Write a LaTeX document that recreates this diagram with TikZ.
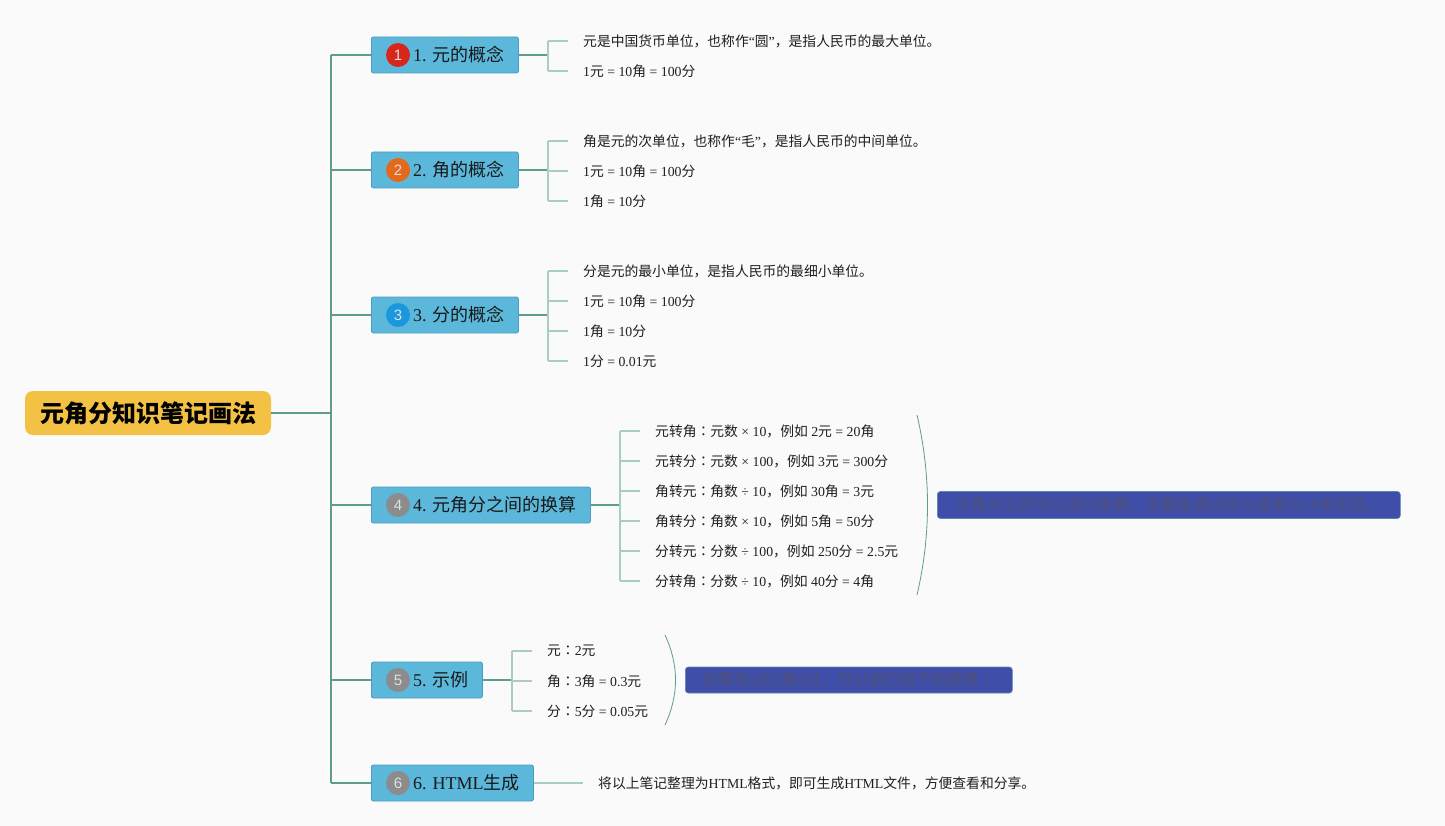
\documentclass[tikz,border=0pt]{standalone}
\usepackage{fontspec}
\setmainfont{Liberation Serif}
\newfontfamily\cjk{Noto Sans CJK SC}
\newfontfamily\cjktc{Noto Sans CJK TC}
\newfontfamily\lat{Liberation Serif}
\newfontfamily\numf{Liberation Sans}
% automatic switch between Latin and CJK fonts
\newcount\mycc
\def\setcjkrange#1#2{\mycc=#1\relax\loop\XeTeXcharclass\mycc=7\relax\advance\mycc by 1\relax\ifnum\mycc<#2\repeat}
\setcjkrange{"4E00}{"A000}
\setcjkrange{"3000}{"3040}
\setcjkrange{"FF00}{"FFF0}
\XeTeXcharclass"FF1A=8
\XeTeXinterchartoks 0 7 = {\cjk}
\XeTeXinterchartoks 4095 7 = {\cjk}
\XeTeXinterchartoks 8 7 = {\cjk}
\XeTeXinterchartoks 7 0 = {\lat}
\XeTeXinterchartoks 7 4095 = {\lat}
\XeTeXinterchartoks 8 0 = {\lat}
\XeTeXinterchartoks 8 4095 = {\lat}
\XeTeXinterchartoks 7 8 = {\cjktc}
\XeTeXinterchartoks 0 8 = {\cjktc}
\XeTeXinterchartoks 4095 8 = {\cjktc}
\XeTeXinterchartokenstate=1
\definecolor{bgc}{HTML}{FAFAFA}
\definecolor{rootc}{HTML}{F3C143}
\definecolor{boxc}{HTML}{5BB8DB}
\definecolor{boxd}{HTML}{4A9CBE}
\definecolor{trunkc}{HTML}{5E9C8C}
\definecolor{leafc}{HTML}{A8CEC2}
\definecolor{sumc}{HTML}{3F4FA9}
\definecolor{sumd}{HTML}{5A86B0}
\definecolor{sumt}{HTML}{4F5078}
\definecolor{n1}{HTML}{D9261C}
\definecolor{n2}{HTML}{E4691A}
\definecolor{n3}{HTML}{1A98DE}
\definecolor{n4}{HTML}{8C8C8C}
\begin{document}
\begin{tikzpicture}[x=1pt,y=-1pt,
  rootbox/.style={fill=rootc, rounded corners=8pt, minimum width=246pt, minimum height=44pt, inner sep=0pt, font=\bfseries\fontsize{24}{28}\selectfont},
  branchbox/.style={fill=boxc, draw=boxd, line width=0.8pt, rounded corners=2pt, minimum height=36pt, inner sep=0pt, anchor=west},
  blabel/.style={anchor=west, inner sep=0pt, text=black!90, font=\fontsize{18}{22}\selectfont},
  numc/.style={circle, minimum size=24pt, inner sep=0pt, text=white!75!gray, font=\numf\fontsize{15}{15}\selectfont},
  leaf/.style={anchor=west, inner xsep=15pt, inner ysep=2pt, text=black!88, font=\fontsize{13.8}{16}\selectfont},
  trunk/.style={draw=trunkc, line width=1.2pt},
  twig/.style={draw=leafc, line width=1.2pt},
  brace/.style={draw=trunkc, line width=0.8pt},
  sumbox/.style={fill=sumc, draw=sumd, line width=0.6pt, rounded corners=3pt, inner sep=0pt, text=sumt, font=\fontsize{15.8}{18}\selectfont},
]
\useasboundingbox[fill=bgc] (0,0) rectangle (1445,826);

% root
\node[rootbox] (root) at (148,413) {元角分知识笔记画法};
\coordinate (tk) at (331,413);

% branch boxes
\node[branchbox, minimum width=147pt] (b1) at (371,55) {};
\node[branchbox, minimum width=147pt] (b2) at (371,170) {};
\node[branchbox, minimum width=147pt] (b3) at (371,315) {};
\node[branchbox, minimum width=219pt] (b4) at (371,505) {};
\node[branchbox, minimum width=111pt] (b5) at (371,680) {};
\node[branchbox, minimum width=162pt] (b6) at (371,783) {};

\node[numc, fill=n1] (c1) at (398,55) {1};
\node[numc, fill=n2] (c2) at (398,170) {2};
\node[numc, fill=n3] (c3) at (398,315) {3};
\node[numc, fill=n4] (c4) at (398,505) {4};
\node[numc, fill=n4] (c5) at (398,680) {5};
\node[numc, fill=n4] (c6) at (398,783) {6};

\node[blabel] (t1) at (413,55) {1. 元的概念};
\node[blabel] (t2) at (413,170) {2. 角的概念};
\node[blabel] (t3) at (413,315) {3. 分的概念};
\node[blabel] (t4) at (413,505) {4. 元角分之间的换算};
\node[blabel] (t5) at (413,680) {5. 示例};
\node[blabel] (t6) at (413,783) {6. HTML生成};

% trunk
\draw[trunk] (root.east) -- (tk);
\draw[trunk] (tk |- b1.west) -- (tk |- b6.west);
\foreach \b in {b1,b2,b3,b4,b5,b6} {\draw[trunk] (tk |- \b.west) -- (\b.west);}

% leaves branch 1
\node[leaf] (l11) at (568,41) {元是中国货币单位，也称作“圆”，是指人民币的最大单位。};
\node[leaf] (l12) at (568,71) {1元 = 10角 = 100分};
\coordinate (k1) at (548,55);
\draw[trunk] (b1.east) -- (k1);
\draw[twig] (k1 |- l11.west) -- (k1 |- l12.west);
\foreach \l in {l11,l12} {\draw[twig] (k1 |- \l.west) -- (\l.west);}

% leaves branch 2
\node[leaf] (l21) at (568,141) {角是元的次单位，也称作“毛”，是指人民币的中间单位。};
\node[leaf] (l22) at (568,171) {1元 = 10角 = 100分};
\node[leaf] (l23) at (568,201) {1角 = 10分};
\coordinate (k2) at (548,170);
\draw[trunk] (b2.east) -- (k2);
\draw[twig] (k2 |- l21.west) -- (k2 |- l23.west);
\foreach \l in {l21,l22,l23} {\draw[twig] (k2 |- \l.west) -- (\l.west);}

% leaves branch 3
\node[leaf] (l31) at (568,271) {分是元的最小单位，是指人民币的最细小单位。};
\node[leaf] (l32) at (568,301) {1元 = 10角 = 100分};
\node[leaf] (l33) at (568,331) {1角 = 10分};
\node[leaf] (l34) at (568,361) {1分 = 0.01元};
\coordinate (k3) at (548,315);
\draw[trunk] (b3.east) -- (k3);
\draw[twig] (k3 |- l31.west) -- (k3 |- l34.west);
\foreach \l in {l31,l32,l33,l34} {\draw[twig] (k3 |- \l.west) -- (\l.west);}

% leaves branch 4
\node[leaf] (l41) at (640,431) {元转角：元数 × 10，例如 2元 = 20角};
\node[leaf] (l42) at (640,461) {元转分：元数 × 100，例如 3元 = 300分};
\node[leaf] (l43) at (640,491) {角转元：角数 ÷ 10，例如 30角 = 3元};
\node[leaf] (l44) at (640,521) {角转分：角数 × 10，例如 5角 = 50分};
\node[leaf] (l45) at (640,551) {分转元：分数 ÷ 100，例如 250分 = 2.5元};
\node[leaf] (l46) at (640,581) {分转角：分数 ÷ 10，例如 40分 = 4角};
\coordinate (k4) at (620,505);
\draw[trunk] (b4.east) -- (k4);
\draw[twig] (k4 |- l41.west) -- (k4 |- l46.west);
\foreach \l in {l41,l42,l43,l44,l45,l46} {\draw[twig] (k4 |- \l.west) -- (\l.west);}

% leaves branch 5
\node[leaf] (l51) at (532,651) {元：2元};
\node[leaf] (l52) at (532,681) {角：3角 = 0.3元};
\node[leaf] (l53) at (532,711) {分：5分 = 0.05元};
\coordinate (k5) at (512,680);
\draw[trunk] (b5.east) -- (k5);
\draw[twig] (k5 |- l51.west) -- (k5 |- l53.west);
\foreach \l in {l51,l52,l53} {\draw[twig] (k5 |- \l.west) -- (\l.west);}

% leaf branch 6
\node[leaf] (l61) at (583,783) {将以上笔记整理为HTML格式，即可生成HTML文件，方便查看和分享。};
\draw[twig] (b6.east) -- (l61.west);

% summaries
\coordinate (s4a) at (917,415);
\coordinate (s4b) at (917,595);
\draw[brace] (s4a) .. controls (931,475) and (931,535) .. (s4b);
\node[sumbox, minimum width=463pt, minimum height=27pt, anchor=west] (s4) at (937,505) {元角分之间可以进行换算，主要是通过除以或乘以10来实现。};

\coordinate (s5a) at (665,635);
\coordinate (s5b) at (665,725);
\draw[brace] (s5a) .. controls (679,665) and (679,695) .. (s5b);
\node[sumbox, minimum width=327pt, minimum height=26pt, anchor=west] (s5) at (685,680) {如果有2元3角5分，可以进行如下的换算：};
\end{tikzpicture}
\end{document}
